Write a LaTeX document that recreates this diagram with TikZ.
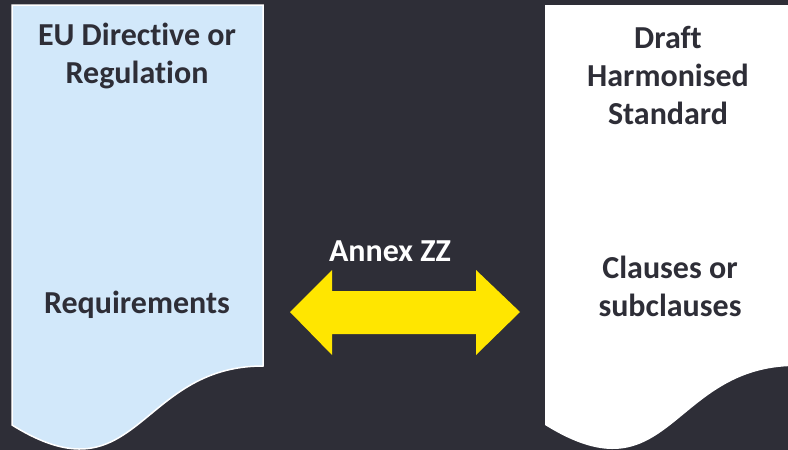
\documentclass[tikz,border=0pt]{standalone}
\usepackage{xcolor}
\usepackage{fontspec}
\setmainfont[RawFeature=-liga]{Carlito}
\usepackage{tikz}

\definecolor{bgdark}{HTML}{2E2E37}
\definecolor{docblue}{HTML}{D2E8FA}
\definecolor{arrowyellow}{HTML}{FFE600}
\definecolor{txtdark}{HTML}{2E2E37}

\begin{document}
\begin{tikzpicture}[x=1pt,y=-1pt,
	doctext/.style={text=txtdark,font=\fontsize{32}{38}\selectfont\bfseries,align=center},
	arrtext/.style={text=white,font=\fontsize{32}{38}\selectfont\bfseries}]
			\useasboundingbox (0,0) rectangle (788,450);
			\fill[bgdark] (0,0) rectangle (788,450);
			\clip (0,0) rectangle (788,450);
			% documents
			\filldraw[fill=docblue,draw=white,line width=1.5pt] (12,5) -- (263,5) -- (263,366) .. controls (137.5,366) and (137.5,503) .. (12,425) -- cycle;
			\fill[white] (545,5) -- (796,5) -- (796,366) .. controls (670.5,366) and (670.5,503) .. (545,425) -- cycle;
			% double arrow
			\fill[arrowyellow] (290,312) -- (332,270) -- (332,291) -- (476,291) -- (476,270) -- (520,312) -- (476,355) -- (476,334) -- (332,334) -- (332,355) -- cycle;
			\node[doctext] (eu) at (137,56) {EU Directive or\\Regulation};
			\node[doctext] (req) at (137,305) {Requirements};
			\node[doctext] (draft) at (668,75) {Draft\\Harmonised\\Standard};
			\node[doctext] (clauses) at (670,286) {Clauses or\\subclauses};
			\node[arrtext] (annex) at (390,251) {Annex ZZ};
		\end{tikzpicture}
\end{document}
